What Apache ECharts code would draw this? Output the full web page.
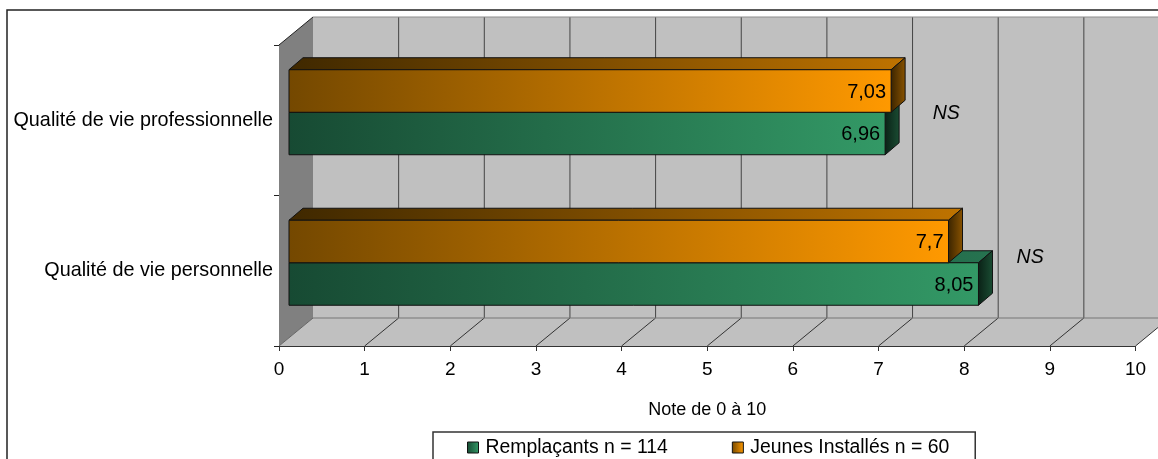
<!DOCTYPE html>
<html><head><meta charset="utf-8"><style>html,body{margin:0;padding:0;background:#fff}#c{width:1158px;height:459px}</style>
<script src="https://cdn.jsdelivr.net/npm/echarts@6/dist/echarts.min.js"></script></head>
<body><div id="c"></div><script>
const categories = ['Qualité de vie personnelle', 'Qualité de vie professionnelle'];
const remplacants = [8.05, 6.96];
const jeunes = [7.7, 7.03];
const seriesNames = ['Remplaçants n = 114', 'Jeunes Installés n = 60'];
const noteValues = [8.77, 7.79];
const noteTexts = ['NS', 'NS'];
const xTicks = [0,1,2,3,4,5,6,7,8,9,10];

const FONT = '"Liberation Sans", Arial, sans-serif';
const DX = 34, DY = -28;             // full depth of the 3D box
const BX = 10, BY = -8;              // front offset of the bars
const BDX = 14, BDY = -12;           // bar depth
const NOTE_LIFT = [13, 7];           // vertical lift of the NS notes per category
const grad = (a, b) => new echarts.graphic.LinearGradient(0, 0, 1, 0, [{offset:0,color:a},{offset:1,color:b}]);
const G = { front:['#174a33','#339966'], top:['#0f3020','#267350'], side:['#0a2116','#1a4d33'] };
const O = { front:['#744800','#ff9900'], top:['#3f2800','#bf7300'], side:['#3a2400','#8a5300'] };

function poly(points, fill, stroke, lw){
  return {type:'polygon', shape:{points}, style:{fill, stroke:stroke||null, lineWidth:lw||0}, silent:true};
}
function line(x1,y1,x2,y2,stroke,lw){
  return {type:'line', shape:{x1,y1,x2,y2}, style:{stroke, lineWidth:lw||1}, silent:true};
}
function renderWalls(params, api){
  const band = api.size([0,1])[1];
  const yBot = api.coord([0,0])[1] + band/2, yTop = api.coord([0,1])[1] - band/2;
  const xL = api.coord([0,0])[0], xR = api.coord([10,0])[0];
  const kids = [];
  kids.push(poly([[xL+DX,yTop+DY],[xR+DX,yTop+DY],[xR+DX,yBot+DY],[xL+DX,yBot+DY]],'#c0c0c0'));
  kids.push(poly([[xL,yBot],[xR,yBot],[xR+DX,yBot+DY],[xL+DX,yBot+DY]],'#c0c0c0'));
  kids.push(poly([[xL,yBot],[xL,yTop],[xL+DX,yTop+DY],[xL+DX,yBot+DY]],'#808080'));
  xTicks.forEach(t=>{
    const x = api.coord([t,0])[0];
    if(t>0){
      kids.push(line(x,yBot,x+DX,yBot+DY,'#333',1));
      kids.push(line(x+DX,yTop+DY,x+DX,yBot+DY,'#444',1));
    }
  });
  kids.push(line(xL,yBot,xL+DX,yBot+DY,'#666',1));
  kids.push(line(xL+DX,yBot+DY,xR+DX,yBot+DY,'#777',1));
  kids.push(line(xL+DX,yTop+DY,xR+DX,yTop+DY,'#8c8c8c',1));
  kids.push(line(xL,yTop,xL+DX,yTop+DY,'#222',1));
  return {type:'group', children:kids};
}
function barRenderer(pal, slot){
  return function(params, api){
    const v = api.value(0), c = api.value(1);
    const e = api.coord([v,c]), s = api.coord([0,c]);
    const band = api.size([0,1])[1];
    const h = band * 0.2824;
    const x0 = s[0]+BX, x1 = e[0]+BX;
    const yT = e[1]+BY + (slot===1 ? -h : 0), yB = yT + h;
    const stroke = '#111';
    return {type:'group', children:[
      poly([[x0,yT],[x1,yT],[x1+BDX,yT+BDY],[x0+BDX,yT+BDY]], grad(pal.top[0],pal.top[1]), stroke, 1),
      poly([[x1,yT],[x1+BDX,yT+BDY],[x1+BDX,yB+BDY],[x1,yB]], grad(pal.side[0],pal.side[1]), stroke, 1),
      {type:'rect', shape:{x:x0,y:yT,width:x1-x0,height:h}, style:{fill:grad(pal.front[0],pal.front[1]),stroke,lineWidth:1}, silent:true},
      {type:'text', style:{text:String(v).replace('.',','), x:x1-5, y:(yT+yB)/2+1, align:'right', verticalAlign:'middle', font:'20px '+FONT, fill:'#000'}, silent:true}
    ]};
  };
}
const chart = echarts.init(document.getElementById('c'), null, {renderer:'canvas'});
chart.setOption({
  animation:false,
  backgroundColor:'#fff',
  textStyle:{fontFamily:FONT},
  graphic:[{type:'rect', z:-10, shape:{x:7,y:10,width:1200,height:500}, style:{fill:'#fff',stroke:'#222',lineWidth:1.5}, silent:true}],
  grid:{left:279,right:22.5,top:45,bottom:113},
  xAxis:{type:'value',min:0,max:10,interval:1,
    name:'Note de 0 à 10',nameLocation:'middle',nameGap:55,nameTextStyle:{fontSize:18,color:'#000',fontFamily:FONT},
    axisLine:{show:true,lineStyle:{color:'#333',width:1}},axisTick:{show:true,length:5,lineStyle:{color:'#333'}},
    axisLabel:{fontSize:19,color:'#000',margin:14,fontFamily:FONT,showMinLabel:true,showMaxLabel:true,hideOverlap:false},
    splitLine:{show:false}},
  yAxis:{type:'category',data:categories,
    axisLine:{show:true,onZero:false,lineStyle:{color:'#222',width:1}},axisTick:{show:true,length:5,lineStyle:{color:'#222'}},
    axisLabel:{fontSize:19.8,color:'#000',margin:6,fontFamily:FONT,padding:[5,0,0,0]},splitLine:{show:false}},
  legend:{show:true,left:433,top:432,data:seriesNames,orient:'horizontal',
    padding:[6,26,30,34],itemGap:64,itemWidth:11,itemHeight:11,
    backgroundColor:'#fff',borderColor:'#333',borderWidth:1.5,
    textStyle:{fontSize:19.4,color:'#000',fontFamily:FONT,padding:[0,0,0,2]},
    itemStyle:{borderColor:'#111',borderWidth:1},icon:'rect'},
  series:[
    {type:'custom',name:'walls',z:1,silent:true,encode:{x:0,y:1},data:[[0,0]],renderItem:renderWalls,tooltip:{show:false}},
    {type:'custom',name:seriesNames[0],z:2,silent:true,encode:{x:0,y:1},
      itemStyle:{color:grad(G.front[0],G.front[1])},
      data:remplacants.map((v,i)=>[v,i]),renderItem:barRenderer(G,0)},
    {type:'custom',name:seriesNames[1],z:3,silent:true,encode:{x:0,y:1},
      itemStyle:{color:grad(O.front[0],O.front[1])},
      data:jeunes.map((v,i)=>[v,i]),renderItem:barRenderer(O,1)},
    {type:'custom',name:'notes',z:4,silent:true,encode:{x:0,y:1},data:noteValues.map((v,i)=>[v,i]),
      renderItem:(p,api)=>{const c=api.value(1),q=api.coord([api.value(0),c]);
        return {type:'text',style:{text:noteTexts[p.dataIndex],x:q[0],y:q[1]-NOTE_LIFT[c],align:'center',verticalAlign:'middle',font:'italic 19.5px '+FONT,fill:'#000'},silent:true};}}
  ]
});
</script></body></html>
